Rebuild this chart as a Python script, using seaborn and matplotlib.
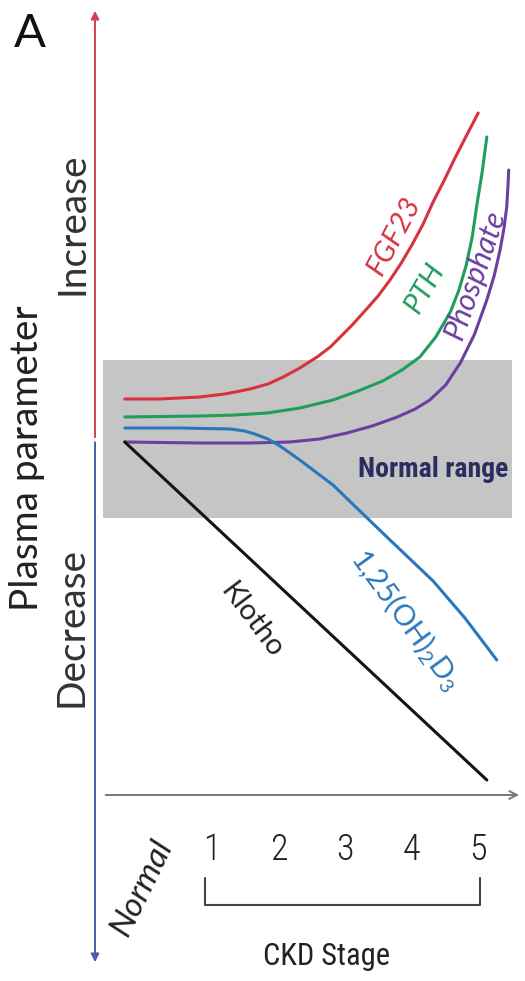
import numpy as np
import pandas as pd
import matplotlib
matplotlib.use("Agg")
import matplotlib.pyplot as plt
import seaborn as sns

# CKD stage (x) vs plasma level (arbitrary units, 0 = normal)
stage_fgf23 = [-0.32, 0.21, 0.81, 1.19, 1.57, 1.84, 2.07, 2.32, 2.58, 2.78, 2.93, 3.11,
               3.30, 3.50, 3.68, 3.85, 4.01, 4.18, 4.33, 4.50, 4.66, 4.83, 5.01]
level_fgf23 = [4.1, 4.1, 4.3, 4.6, 5.1, 5.6, 6.3, 7.2, 8.3, 9.3, 10.3, 11.5,
               12.9, 14.4, 16.0, 17.7, 19.5, 21.6, 23.8, 26.0, 28.2, 30.4, 32.7]

stage_pth = [-0.32, 0.81, 1.34, 1.83, 2.32, 2.82, 3.20, 3.57, 3.86, 4.13, 4.37, 4.59,
             4.72, 4.83, 4.92, 4.99, 5.07, 5.14]
level_pth = [2.3, 2.4, 2.5, 2.7, 3.2, 4.0, 4.9, 5.9, 7.0, 8.3, 10.3, 12.8,
             15.0, 17.5, 20.3, 23.5, 26.8, 30.3]

stage_phos = [-0.32, 0.81, 1.57, 2.17, 2.62, 3.03, 3.41, 3.79, 4.06, 4.28, 4.52, 4.74,
              4.95, 5.14, 5.25, 5.34, 5.40, 5.44, 5.46, 5.47]
level_phos = [-0.2, -0.3, -0.3, -0.2, 0.1, 0.7, 1.4, 2.3, 3.1, 4.0, 5.5, 7.7,
              10.5, 14.0, 16.4, 19.0, 21.2, 23.3, 25.5, 27.0]

stage_vitd = [-0.32, 0.51, 1.27, 1.49, 1.64, 1.84, 2.02, 2.32, 2.82, 3.57, 4.33, 4.81, 5.29]
level_vitd = [1.2, 1.2, 1.1, 0.9, 0.6, 0.1, -0.6, -2.0, -4.5, -9.3, -14.1, -17.8, -22.0]

stage_klotho = [-0.32, 5.14]
level_klotho = [-0.2, -34.0]

normal_range = (-7.8, 8.0)
stage_ticks = [1, 2, 3, 4, 5]
stage_labels = ["1", "2", "3", "4", "5"]

markers = ["FGF23", "PTH", "Phosphate", "1,25(OH)2D3", "Klotho"]
colors = ["#d8323f", "#1f9d5b", "#6a3f9e", "#2a78bb", "#141414"]

rows = []
for name, xs, ys in zip(markers,
                        [stage_fgf23, stage_pth, stage_phos, stage_vitd, stage_klotho],
                        [level_fgf23, level_pth, level_phos, level_vitd, level_klotho]):
    for x, y in zip(xs, ys):
        rows.append((name, x, y))
df = pd.DataFrame(rows, columns=["marker", "stage", "level"])

sns.set_theme(style="white")
NARROW = ["Roboto Condensed", "Lato", "DejaVu Sans"]
WIDE = ["Lato", "DejaVu Sans"]
plt.rcParams["font.family"] = NARROW
plt.rcParams["mathtext.fontset"] = "custom"
plt.rcParams["mathtext.rm"] = "Lato"

fig = plt.figure(figsize=(5.25, 9.81), dpi=100)
ax = fig.add_axes([0, 0, 1, 1])
ax.set_xlim(-2.202, 5.716)
ax.set_ylim(-54.1, 44.0)
ax.axis("off")

# normal range band
ax.fill_between([-0.65, 5.52], normal_range[0], normal_range[1], color="#c5c5c5", lw=0, zorder=0)

sns.lineplot(data=df, x="stage", y="level", hue="marker", hue_order=markers,
             palette=dict(zip(markers, colors)), sort=False, estimator=None,
             legend=False, lw=2.2, ax=ax, zorder=3)

# y "axis": red up, blue down
ax.annotate("", xy=(-0.769, 43.2), xytext=(-0.769, 0),
            arrowprops=dict(arrowstyle="-|>", color="#d9404f", lw=1.4, mutation_scale=12))
ax.annotate("", xy=(-0.769, -52.5), xytext=(-0.769, 0.05),
            arrowprops=dict(arrowstyle="-|>", color="#4f5ca8", lw=1.4, mutation_scale=12))
# x "axis"
ax.annotate("", xy=(5.67, -35.5), xytext=(-0.65, -35.5),
            arrowprops=dict(arrowstyle="->", color="#777777", lw=1.4, mutation_scale=14))

# stage labels and bracket
for s, lab in zip(stage_ticks, stage_labels):
    ax.text(s, -41.0, lab, ha="center", va="center", fontsize=26, fontweight="light",
            color="#222222")
ax.text(-0.06, -44.8, "Normal", rotation=64, style="italic", ha="center", va="center",
        fontsize=24, color="#222222", family=WIDE)
ax.plot([0.89, 0.89, 5.04, 5.04], [-43.8, -46.5, -46.5, -43.8], color="#444444", lw=1.5)
ax.text(2.73, -51.7, "CKD Stage", ha="center", va="center", fontsize=22, color="#222222")

# side labels
ax.text(-1.75, 40.6, "A", ha="center", va="center", fontsize=34, color="#111111", family=WIDE)
ax.text(-1.795, -1.8, "Plasma parameter", rotation=90, ha="center", va="center",
        fontsize=28, color="#222222", family=WIDE)
ax.text(-1.116, 21.6, "Increase", rotation=90, ha="center", va="center",
        fontsize=28, color="#333333", family=WIDE)
ax.text(-1.131, -18.7, "Decrease", rotation=90, ha="center", va="center",
        fontsize=28, color="#333333", family=WIDE)

# curve labels
ax.text(4.33, -3.0, "Normal range", ha="center", va="center", fontsize=20,
        fontweight="bold", color="#2b2d5e")
ax.text(3.74, 20.4, "FGF23", rotation=62, style="italic", ha="center", va="center",
        fontsize=21, color=colors[0], family=WIDE)
ax.text(4.21, 15.2, "PTH", rotation=60, style="italic", ha="center", va="center",
        fontsize=21, color=colors[1], family=WIDE)
ax.text(4.96, 16.5, "Phosphate", rotation=71, style="italic", ha="center", va="center",
        fontsize=22, color=colors[2], family=WIDE)
ax.text(3.91, -18.0, "1,25(OH)$_2$D$_3$", rotation=-54, ha="center", va="center",
        fontsize=21, color=colors[3], family=WIDE)
ax.text(1.60, -18.0, "Klotho", rotation=-53, ha="center", va="center",
        fontsize=21, color="#222222", family=WIDE)

fig.savefig("out.png", dpi=100)
